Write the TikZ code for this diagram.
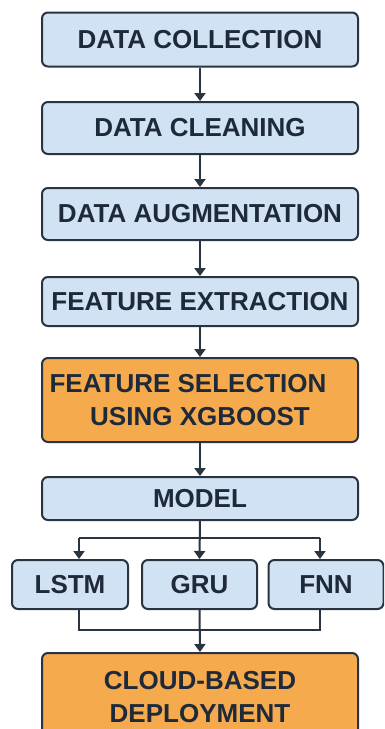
\documentclass[tikz,border=0pt]{standalone}
\usepackage{fontspec}
\setmainfont{Liberation Sans}
\usetikzlibrary{arrows.meta}
\definecolor{boxblue}{RGB}{208,226,243}
\definecolor{boxorange}{RGB}{246,170,78}
\definecolor{edge}{RGB}{42,52,64}
\definecolor{txt}{RGB}{30,42,58}
\tikzset{
  box/.style={draw=edge, line width=2pt, rounded corners=6pt, fill=boxblue,
    text=txt, font=\fontsize{26}{33}\selectfont\bfseries, align=center,
    inner sep=0pt, minimum width=316pt},
  hot/.style={box, fill=boxorange},
  small/.style={box, minimum width=115pt},
  conn/.style={draw=edge, line width=2pt},
  arr/.style={conn, -{Triangle[width=11pt,length=8pt]}}
}
\begin{document}
\begin{tikzpicture}[x=1pt,y=-1pt]
\useasboundingbox[fill=white] (0,0) rectangle (384,729);
\begin{scope}
\clip (0,0) rectangle (384,729);
\node[box, minimum height=54pt] (dc) at (200,39.5) {DATA COLLECTION};
\node[box, minimum height=52pt] (dcl) at (200,128) {DATA CLEANING};
\node[box, minimum height=52pt] (da) at (200,214) {DATA AUGMENTATION};
\node[box, minimum height=49pt] (fe) at (200,301.5) {FEATURE EXTRACTION};
\node[hot, minimum height=84pt] (fs) at (200,400) {FEATURE SELECTION\rule{24pt}{0pt}\\USING XGBOOST};
\node[box, minimum height=43pt] (model) at (200,498.5) {MODEL};
\node[small, minimum width=116pt, minimum height=49pt] (lstm) at (70,584.5) {LSTM};
\node[small, minimum height=49pt] (gru) at (199.5,584.5) {GRU};
\node[small, minimum height=49pt] (fnn) at (326,584.5) {FNN};
\node[hot, minimum height=88pt] (cloud) at (200,697) {CLOUD-BASED\\DEPLOYMENT};

\draw[arr] (dc) -- (dcl);
\draw[arr] (dcl) -- (da);
\draw[arr] (da) -- (fe);
\draw[arr] (fe) -- (fs);
\draw[arr] (fs) -- (model);

\coordinate (sl) at (79,538);
\coordinate (sr) at (320,538);
\coordinate (ml) at (79,630);
\coordinate (mr) at (320,630);
\draw[arr] (model.south) -- (gru.north);
\draw[conn] (sl) -- (sr);
\draw[arr] (sl) -- (sl |- lstm.north);
\draw[arr] (sr) -- (sr |- fnn.north);
\draw[conn] (lstm.south -| ml) -- (ml) -- (mr) -- (fnn.south -| mr);
\draw[arr] (gru.south) -- (cloud.north);
\end{scope}
\end{tikzpicture}
\end{document}
